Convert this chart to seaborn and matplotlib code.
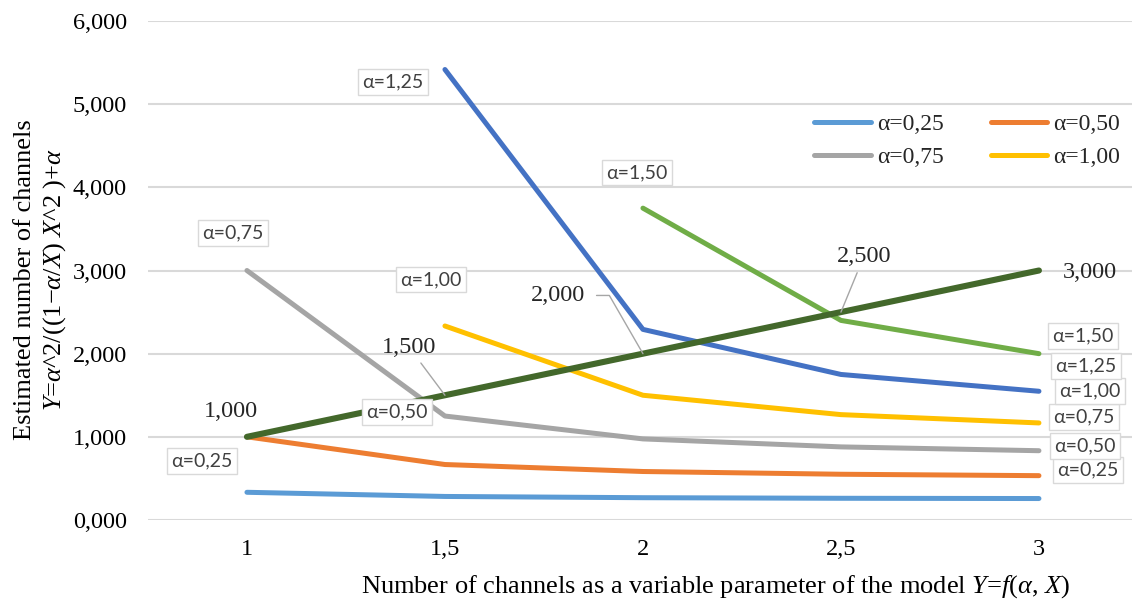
import numpy as np
import pandas as pd
import seaborn as sns
import matplotlib.pyplot as plt

# data
x_vals = [1, 1.5, 2, 2.5, 3]
x_ticklabels = ['1', '1,5', '2', '2,5', '3']
y_ticks = [0, 1, 2, 3, 4, 5, 6]
y_ticklabels = ['0,000', '1,000', '2,000', '3,000', '4,000', '5,000', '6,000']

alpha_025 = [0.333, 0.283, 0.268, 0.261, 0.258]
alpha_050 = [1.000, 0.667, 0.583, 0.550, 0.533]
alpha_075 = [3.000, 1.250, 0.975, 0.879, 0.833]
alpha_100 = [np.nan, 2.333, 1.500, 1.267, 1.167]
alpha_125 = [np.nan, 5.417, 2.292, 1.750, 1.548]
alpha_150 = [np.nan, np.nan, 3.750, 2.400, 2.000]
diag = [1.000, 1.500, 2.000, 2.500, 3.000]
diag_labels = ['1,000', '1,500', '2,000', '2,500', '3,000']

series_names = ['α=0,25', 'α=0,50', 'α=0,75', 'α=1,00', 'α=1,25', 'α=1,50', 'Y=X']
series_vals = [alpha_025, alpha_050, alpha_075, alpha_100, alpha_125, alpha_150, diag]
colors = ['#5B9BD5', '#ED7D31', '#A5A5A5', '#FFC000', '#4472C4', '#70AD47', '#43682B']

# box label placement (data coords)
start_label_pos = [(0.886, 0.71), (1.379, 1.30), (0.965, 3.45), (1.465, 2.89), (1.369, 5.27), (1.985, 4.18)]
end_label_pos = [(3.124, 0.60), (3.116, 0.89), (3.114, 1.24), (3.128, 1.55), (3.119, 1.85), (3.111, 2.21)]
diag_label_pos = [(0.96, 1.30), (1.409, 2.08), (1.785, 2.70), (2.558, 3.17), (3.129, 2.98)]

sns.set_theme(style='white')
plt.rcParams['font.family'] = ['Liberation Serif', 'DejaVu Serif']
plt.rcParams['mathtext.fontset'] = 'custom'
plt.rcParams['mathtext.rm'] = 'Liberation Serif'
plt.rcParams['mathtext.it'] = 'Liberation Serif:italic'

df = pd.DataFrame({'X': np.tile(x_vals, len(series_names)),
                   'Y': np.concatenate(series_vals),
                   'series': np.repeat(series_names, len(x_vals))})

fig = plt.figure(figsize=(11.32, 6.01), dpi=100)
ax = fig.add_axes([0.1307, 0.1348, 0.8693, 0.8302])

for i, name in enumerate(series_names):
    sub = df[df['series'] == name].dropna()
    lw = 4.4 if name == 'Y=X' else 3.6
    sns.lineplot(data=sub, x='X', y='Y', color=colors[i], linewidth=lw, ax=ax,
                 solid_capstyle='round', solid_joinstyle='round', label=name, legend=False)

ax.set_xlim(0.75, 3.235)
ax.set_ylim(0, 6)
ax.set_xticks(x_vals)
ax.set_xticklabels(x_ticklabels)
ax.set_yticks(y_ticks)
ax.set_yticklabels(y_ticklabels)
ax.tick_params(axis='both', length=0, labelsize=17.5, colors='black')
ax.tick_params(axis='y', pad=15)
ax.tick_params(axis='x', pad=14)
ax.yaxis.grid(True, color='#D9D9D9', linewidth=1.5)
ax.xaxis.grid(False)
ax.set_axisbelow(True)
for s in ax.spines.values():
    s.set_visible(False)

ax.set_xlabel('Number of channels as a variable parameter of the model $Y$=$f$($\\alpha$, $X$)',
              fontsize=19, color='black')
ax.xaxis.set_label_coords(0.577, -0.106)
ax.set_ylabel('Estimated number of channels\n$Y$=$\\alpha$^2/((1−$\\alpha$/$X$) $X$^2 )+$\\alpha$',
              fontsize=19, color='black', va='center', linespacing=1.25)
ax.yaxis.set_label_coords(-0.1087, 0.481)

lines = ax.lines
handles = [lines[0], lines[1], lines[2], lines[3]]
order = [0, 2, 1, 3]
ax.legend([handles[k] for k in order], [series_names[k] for k in order], ncol=2,
          loc='upper left', bbox_to_anchor=(0.677, 0.815),
          frameon=False, fontsize=17, borderpad=0, borderaxespad=0, handlelength=2.4,
          handletextpad=0.25, columnspacing=2.0, labelspacing=0.5)

box = dict(boxstyle='square,pad=0.22', fc='white', ec='#D9D9D9', lw=1)
for i in range(6):
    for (lx, ly) in (start_label_pos[i], end_label_pos[i]):
        ax.text(lx, ly, series_names[i], fontsize=14, family='Lato', color='#404040',
                ha='center', va='center', bbox=box, zorder=5, clip_on=False)

leader = dict(arrowstyle='-', color='#A6A6A6', lw=1, shrinkA=2, shrinkB=0)
for i, lab in enumerate(diag_labels):
    tx, ty = diag_label_pos[i]
    if i in (1, 3):
        ax.annotate(lab, xy=(x_vals[i], diag[i]), xytext=(tx, ty), fontsize=17.5,
                    ha='center', va='center', arrowprops=leader, zorder=6)
    elif i == 2:
        ax.annotate(lab, xy=(x_vals[i], diag[i]), xytext=(tx, ty), fontsize=17.5,
                    ha='center', va='center', zorder=6,
                    arrowprops=dict(leader, shrinkA=6, connectionstyle='angle,angleA=0,angleB=120,rad=0'))
    else:
        ax.text(tx, ty, lab, fontsize=17.5, ha='center', va='center', zorder=6)

fig.savefig('out.png', dpi=100)
